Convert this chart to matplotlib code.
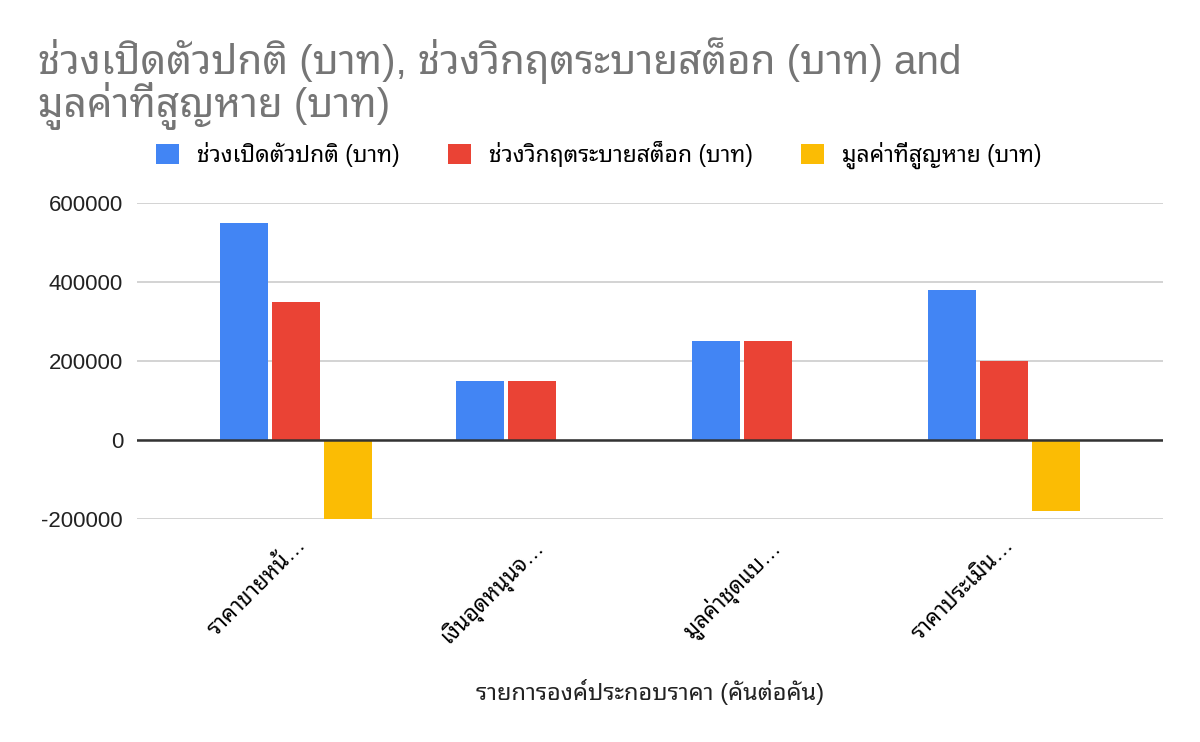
import matplotlib
matplotlib.use("Agg")
import matplotlib.pyplot as plt
import numpy as np
import warnings
warnings.filterwarnings("ignore")

plt.rcParams['font.family'] = ['Liberation Sans', 'Noto Sans Thai Looped', 'DejaVu Sans']

categories = ["ราคาขายหน้…", "เงินอุดหนุนจ…", "มูลค่าชุดแบ…", "ราคาประเมิน…"]
series_names = ["ช่วงเปิดตัวปกติ (บาท)", "ช่วงวิกฤตระบายสต็อก (บาท)", "มูลค่าที่สูญหาย (บาท)"]
normal = [550000, 150000, 250000, 380000]
crisis = [350000, 150000, 250000, 200000]
lost = [-200000, 0, 0, -180000]
colors = ["#4285F4", "#EA4335", "#FBBC04"]
yticks = [-200000, 0, 200000, 400000, 600000]
title = "ช่วงเปิดตัวปกติ (บาท), ช่วงวิกฤตระบายสต็อก (บาท) and\nมูลค่าที่สูญหาย (บาท)"
xlabel = "รายการองค์ประกอบราคา (คันต่อคัน)"

fig = plt.figure(figsize=(12, 7.42), dpi=100)
ax = fig.add_axes([137/1200, 1 - 519/742, (1163-137)/1200, (519-203)/742])

x = np.arange(len(categories))
w = 0.203
step = 0.22
handles = []
for i, (vals, c, name) in enumerate(zip([normal, crisis, lost], colors, series_names)):
    b = ax.bar(x + (i - 1) * step, vals, width=w, color=c, label=name, zorder=3)
    handles.append(b)

ax.set_ylim(-200000, 600000)
ax.set_xlim(-0.674, 3.674)
ax.set_yticks(yticks)
ax.set_yticklabels([str(v) for v in yticks])
ax.yaxis.grid(True, color="#cccccc", linewidth=1.2, zorder=0)
ax.axhline(0, color="#333333", linewidth=1.8, zorder=4)
for s in ax.spines.values():
    s.set_visible(False)
ax.tick_params(axis='y', length=0, labelsize=16, pad=10, labelcolor="#222222")
ax.tick_params(axis='x', length=0, labelsize=16, pad=11)
ax.set_xticks(x)
ax.set_xticklabels(categories, rotation=45, ha='right', rotation_mode='anchor')

ax.set_xlabel(xlabel, fontsize=17, color="#222222")
ax.xaxis.set_label_coords(0.5, -0.505)

fig.text(38/1200, 1 - 37/742, title, fontsize=29, color="#757575", va='top', ha='left',
         linespacing=0.95)

fig.legend(handles=handles, labels=series_names, loc='center', bbox_to_anchor=(0.499, 1 - 155/742),
           ncol=3, frameon=False, fontsize=16.5, handlelength=1.0, handleheight=1.0,
           columnspacing=2.1, handletextpad=0.8)

fig.savefig("out.png", dpi=100)
